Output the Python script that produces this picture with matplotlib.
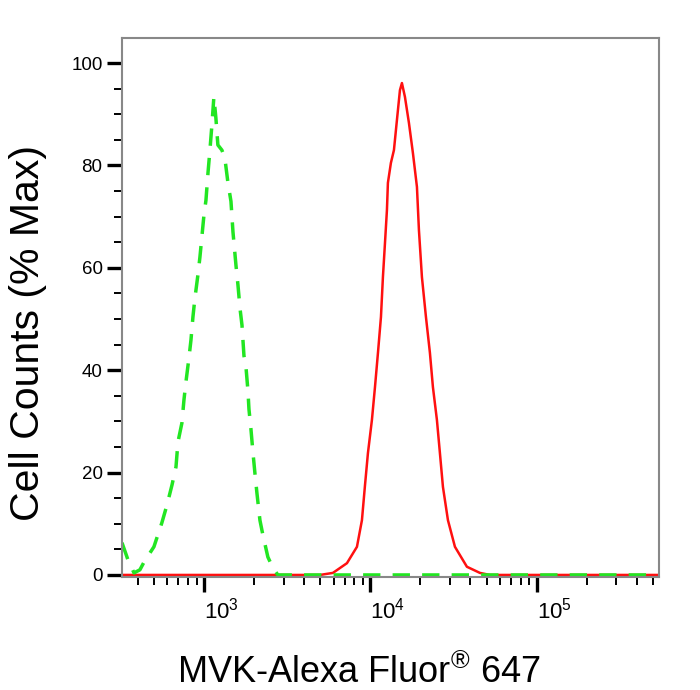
import numpy as np
import matplotlib
matplotlib.use('Agg')
import matplotlib.pyplot as plt
from matplotlib.ticker import MultipleLocator, LogLocator, NullFormatter

plt.rcParams['font.family'] = ['Liberation Sans', 'DejaVu Sans']
plt.rcParams['mathtext.fontset'] = 'custom'
plt.rcParams['mathtext.rm'] = 'Liberation Sans'
plt.rcParams['mathtext.default'] = 'regular'

# isotype control (green dashed)
green_x = [320, 348, 378, 410, 434, 498, 556, 597, 640, 676, 695, 734, 755, 776,
           809, 832, 855, 879, 916, 942, 996, 1024, 1053, 1082, 1112, 1143, 1175,
           1208, 1277, 1331, 1389, 1448, 1489, 1552, 1596, 1641, 1687, 1734, 1783,
           1833, 1858, 1910, 1963, 2018, 2075, 2163, 2254, 2415, 2588, 2773, 545000]
green_y = [6.3, 2.9, 0.4, 1.0, 2.5, 5.5, 10.2, 13.7, 17.6, 21.1, 26.0, 29.7, 34.2, 37.7,
           42.4, 45.9, 50.4, 54.1, 58.6, 62.1, 70.3, 73.2, 78.5, 83.0, 87.9, 93.4, 89.3,
           84.0, 83.0, 81.4, 76.6, 73.0, 67.0, 60.5, 56.6, 52.1, 48.8, 42.8, 40.6,
           35.9, 32.4, 28.5, 24.0, 19.9, 16.0, 10.7, 7.8, 3.5, 1.4, 0.0, 0.0]

# MVK stained sample (red)
red_x = [320, 4966, 5946, 7222, 8297, 8890, 9267, 9660, 10210, 10650, 11100, 11570,
         11890, 12230, 12570, 12740, 13280, 13850, 14440, 15050, 15470, 16130, 17050,
         18020, 19050, 19580, 20410, 21580, 22800, 23770, 25120, 26190, 27310, 29270,
         32250, 38070, 45590, 52360, 545000]
red_y = [0.0, 0.0, 0.4, 2.3, 5.5, 10.7, 17.4, 23.8, 30.3, 36.7, 43.4, 50.4,
         58.2, 64.8, 71.3, 76.6, 80.5, 83.0, 88.9, 94.7, 96.1, 93.4, 88.3,
         82.4, 75.8, 67.4, 58.2, 50.4, 43.4, 36.7, 30.3, 23.8, 17.2, 10.7,
         5.5, 1.6, 0.4, 0.0, 0.0]

x_ticks = [1e3, 1e4, 1e5]
x_labels = [r'$\mathregular{10^{3}}$', r'$\mathregular{10^{4}}$', r'$\mathregular{10^{5}}$']
y_ticks = [0, 20, 40, 60, 80, 100]

fig = plt.figure(figsize=(7, 6.9), dpi=100)
ax = fig.add_axes([122 / 700, 113 / 690, 537 / 700, 539 / 690])

ax.plot(red_x, red_y, color='#ff1010', lw=1.8, solid_capstyle='round')
ax.plot(green_x, green_y, color='#22e622', lw=2.5, dashes=(5, 3.5))

ax.set_xscale('log')
ax.set_xlim(320, 545000)
ax.set_ylim(-0.4, 104.9)

ax.set_xticks(x_ticks, labels=x_labels)
ax.xaxis.set_minor_locator(LogLocator(base=10, subs=np.arange(2, 10)))
ax.xaxis.set_minor_formatter(NullFormatter())
for lbl in ax.get_xticklabels():
    lbl.set_horizontalalignment('left')
ax.set_yticks(y_ticks)
ax.yaxis.set_minor_locator(MultipleLocator(5))

ax.tick_params(axis='both', which='major', direction='out', length=11,
               width=2.4, color='black')
ax.tick_params(axis='both', which='minor', direction='out', length=5.5,
               width=1.4, color='black')
ax.tick_params(axis='y', which='major', pad=3, labelsize=13.5)
ax.tick_params(axis='x', which='major', pad=4, labelsize=16)

for s in ax.spines.values():
    s.set_color('#888888')
    s.set_linewidth(1.5)

fig.text(177 / 700, 7 / 690, 'MVK-Alexa Fluor$^{®}$ 647', fontsize=26,
         ha='left', va='baseline')
fig.text(39 / 700, 1 - 333 / 690, 'Cell Counts (% Max)', fontsize=29.5,
         rotation=90, rotation_mode='anchor', ha='center', va='baseline')

fig.savefig('out.png', dpi=100)
